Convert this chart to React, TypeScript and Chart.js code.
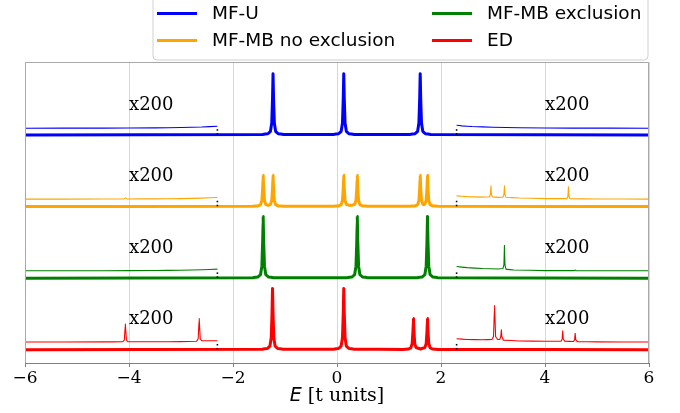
import React, { useEffect, useRef } from "react";
import { Chart, registerables } from "chart.js";

Chart.register(...registerables);

type Pt = [number, number];

const SERIES_NAMES = ["MF-U", "MF-MB no exclusion", "MF-MB exclusion", "ED"];
const COLORS = ["#0000ff", "#ffa500", "#008000", "#ff0000"];
const X_TICKS = [-6, -4, -2, 0, 2, 4, 6];
const TICK_LABELS = ["\u22126", "\u22124", "\u22122", "0", "2", "4", "6"];
const ZOOM_LABEL = "x200";
const CUT_X = [-2.3, 2.3];

// Main spectra (thick lines), intensity vs E
const MFU_MAIN: Pt[] = [
  [-6, 0], [-1.43, 0.008], [-1.33, 0.02], [-1.28, 0.06], [-1.255, 0.2], [-1.24, 0.6], [-1.23, 1.02], [-1.22, 0.6], [-1.205, 0.2], [-1.18, 0.06], [-1.13, 0.02], [-1.03, 0.008],
  [-0.07, 0.008], [0.03, 0.02], [0.08, 0.06], [0.105, 0.2], [0.12, 0.6], [0.13, 1.02], [0.14, 0.6], [0.155, 0.2], [0.18, 0.06], [0.23, 0.02], [0.33, 0.008],
  [1.4, 0.008], [1.5, 0.02], [1.55, 0.06], [1.575, 0.2], [1.59, 0.6], [1.6, 1.02], [1.61, 0.6], [1.625, 0.2], [1.65, 0.06], [1.7, 0.02], [1.8, 0.008], [6, 0],
];
const MFMB_NOEX_MAIN: Pt[] = [
  [-6, 0], [-1.62, 0.004], [-1.52, 0.01], [-1.47, 0.03], [-1.445, 0.1], [-1.43, 0.3], [-1.42, 0.52], [-1.41, 0.3], [-1.395, 0.1], [-1.37, 0.035],
  [-1.325, 0.018], [-1.28, 0.035], [-1.255, 0.1], [-1.24, 0.3], [-1.23, 0.52], [-1.22, 0.3], [-1.205, 0.1], [-1.18, 0.03], [-1.13, 0.01], [-1.03, 0.004],
  [-0.07, 0.004], [0.03, 0.01], [0.08, 0.03], [0.105, 0.1], [0.12, 0.3], [0.13, 0.52], [0.14, 0.3], [0.155, 0.1], [0.18, 0.035],
  [0.26, 0.016], [0.34, 0.035], [0.365, 0.1], [0.38, 0.3], [0.39, 0.52], [0.4, 0.3], [0.415, 0.1], [0.44, 0.03], [0.49, 0.01], [0.59, 0.004],
  [1.4, 0.004], [1.5, 0.01], [1.55, 0.03], [1.575, 0.1], [1.59, 0.3], [1.6, 0.52], [1.61, 0.3], [1.625, 0.1], [1.65, 0.04],
  [1.67, 0.031], [1.69, 0.04], [1.715, 0.1], [1.73, 0.3], [1.74, 0.52], [1.75, 0.3], [1.765, 0.1], [1.79, 0.03], [1.84, 0.01], [1.94, 0.004], [6, 0],
];
const MFMB_EX_MAIN: Pt[] = [
  [-6, 0], [-1.62, 0.008], [-1.52, 0.02], [-1.47, 0.06], [-1.445, 0.2], [-1.43, 0.6], [-1.42, 1.03], [-1.41, 0.6], [-1.395, 0.2], [-1.37, 0.06], [-1.32, 0.02], [-1.22, 0.008],
  [0.19, 0.008], [0.29, 0.02], [0.34, 0.06], [0.365, 0.2], [0.38, 0.6], [0.39, 1.03], [0.4, 0.6], [0.415, 0.2], [0.44, 0.06], [0.49, 0.02], [0.59, 0.008],
  [1.54, 0.008], [1.64, 0.02], [1.69, 0.06], [1.715, 0.2], [1.73, 0.6], [1.74, 1.03], [1.75, 0.6], [1.765, 0.2], [1.79, 0.06], [1.84, 0.02], [1.94, 0.008], [6, 0],
];
const ED_MAIN: Pt[] = [
  [-6, 0], [-1.44, 0.008], [-1.34, 0.02], [-1.29, 0.06], [-1.265, 0.2], [-1.25, 0.6], [-1.24, 1.02], [-1.23, 0.6], [-1.215, 0.2], [-1.19, 0.06], [-1.14, 0.02], [-1.04, 0.008],
  [-0.07, 0.008], [0.03, 0.02], [0.08, 0.06], [0.105, 0.2], [0.12, 0.6], [0.13, 1.02], [0.14, 0.6], [0.155, 0.2], [0.18, 0.06], [0.23, 0.02], [0.33, 0.008],
  [1.27, 0.004], [1.37, 0.01], [1.42, 0.03], [1.445, 0.1], [1.46, 0.3], [1.47, 0.52], [1.48, 0.3], [1.495, 0.1], [1.52, 0.035],
  [1.605, 0.012], [1.69, 0.035], [1.715, 0.1], [1.73, 0.3], [1.74, 0.52], [1.75, 0.3], [1.765, 0.1], [1.79, 0.03], [1.84, 0.01], [1.94, 0.004], [6, 0],
];

// x200 magnified tails (thin lines), left and right of the cuts
const MFU_LEFT: Pt[] = [[-6, -0.008], [-4.5, -0.006], [-3.5, -0.002], [-3, 0.003], [-2.6, 0.012], [-2.3, 0.025]];
const MFU_RIGHT: Pt[] = [[2.3, 0.042], [2.4, 0.032], [2.6, 0.02], [3, 0.008], [3.5, 0], [4.5, -0.006], [6, -0.008]];
const MFMB_NOEX_LEFT: Pt[] = [
  [-6, 0.003], [-4.5, 0.004], [-4.1, 0.006], [-4.07, 0.025], [-4.04, 0.006], [-3.5, 0.008], [-3, 0.012], [-2.6, 0.02], [-2.3, 0.03],
];
const MFMB_NOEX_RIGHT: Pt[] = [
  [2.3, 0.058], [2.5, 0.045], [2.8, 0.037], [2.93, 0.04], [2.95, 0.08], [2.96, 0.225], [2.97, 0.08], [2.99, 0.04],
  [3.1, 0.032], [3.19, 0.035], [3.21, 0.08], [3.22, 0.225], [3.23, 0.08], [3.25, 0.033], [3.5, 0.022], [4, 0.012],
  [4.42, 0.012], [4.44, 0.05], [4.45, 0.21], [4.46, 0.05], [4.48, 0.01], [5, 0.006], [6, 0.003],
];
const MFMB_EX_LEFT: Pt[] = [[-6, 0.002], [-4.5, 0.003], [-3.5, 0.007], [-3, 0.012], [-2.6, 0.02], [-2.3, 0.03]];
const MFMB_EX_RIGHT: Pt[] = [
  [2.3, 0.073], [2.5, 0.055], [2.8, 0.04], [3.1, 0.032], [3.19, 0.04], [3.21, 0.1], [3.22, 0.423], [3.23, 0.1],
  [3.25, 0.03], [3.4, 0.015], [4, 0.006], [4.56, 0.005], [4.58, 0.015], [4.6, 0.005], [6, 0.002],
];
const ED_LEFT: Pt[] = [
  [-6, 0.008], [-4.5, 0.01], [-4.12, 0.012], [-4.09, 0.04], [-4.07, 0.308], [-4.05, 0.04], [-4.02, 0.012],
  [-3.5, 0.012], [-3, 0.015], [-2.7, 0.02], [-2.67, 0.06], [-2.65, 0.4], [-2.63, 0.06], [-2.6, 0.03], [-2.45, 0.028], [-2.3, 0.03],
];
const ED_RIGHT: Pt[] = [
  [2.3, 0.063], [2.5, 0.05], [2.8, 0.045], [2.98, 0.05], [3.01, 0.1], [3.03, 0.618], [3.05, 0.1], [3.09, 0.05],
  [3.13, 0.05], [3.15, 0.1], [3.16, 0.213], [3.17, 0.1], [3.2, 0.04], [3.5, 0.025], [4, 0.02], [4.31, 0.02],
  [4.33, 0.06], [4.34, 0.197], [4.35, 0.06], [4.38, 0.02], [4.55, 0.017], [4.57, 0.05], [4.58, 0.158], [4.59, 0.05],
  [4.62, 0.015], [5, 0.01], [6, 0.008],
];

const MAIN = [MFU_MAIN, MFMB_NOEX_MAIN, MFMB_EX_MAIN, ED_MAIN];
const LEFT = [MFU_LEFT, MFMB_NOEX_LEFT, MFMB_EX_LEFT, ED_LEFT];
const RIGHT = [MFU_RIGHT, MFMB_NOEX_RIGHT, MFMB_EX_RIGHT, ED_RIGHT];

// layout constants
const PANEL_OFFSET = [3.583, 2.389, 1.194, 0];
const THIN_OFFSET = 0.12;
const Y_MIN = -0.222;
const Y_MAX = 4.8;

const toXY = (pts: Pt[], dy: number) => pts.map(([x, y]) => ({ x, y: y + dy }));

export default function App() {
  const ref = useRef<HTMLCanvasElement | null>(null);

  useEffect(() => {
    const canvas = ref.current!;
    const datasets: any[] = [];

    // cut markers (":")
    const dots: { x: number; y: number }[] = [];
    PANEL_OFFSET.forEach((off) => {
      CUT_X.forEach((cx) => {
        dots.push({ x: cx, y: off + 0.017 });
        dots.push({ x: cx, y: off + 0.083 });
      });
    });
    datasets.push({
      label: "cuts",
      data: dots,
      showLine: false,
      pointRadius: 1.1,
      pointStyle: "rect",
      pointBackgroundColor: "#000",
      pointBorderColor: "#000",
      pointBorderWidth: 0,
      order: 0,
    });

    // tiny tension avoids Chart.js's pixel-column "fast path" which notches steep peaks
    const TENSION = 0.0001;

    SERIES_NAMES.forEach((name, i) => {
      datasets.push({
        label: name,
        data: toXY(MAIN[i], PANEL_OFFSET[i]),
        borderColor: COLORS[i],
        borderWidth: 3,
        pointRadius: 0,
        tension: TENSION,
        borderJoinStyle: "round",
        borderCapStyle: "round",
        order: 1 + i,
      });
      datasets.push({
        label: name + " x200 left",
        data: toXY(LEFT[i], PANEL_OFFSET[i] + THIN_OFFSET),
        borderColor: COLORS[i],
        borderWidth: 1.1,
        pointRadius: 0,
        tension: TENSION,
        order: 10 + i,
      });
      datasets.push({
        label: name + " x200 right",
        data: toXY(RIGHT[i], PANEL_OFFSET[i] + THIN_OFFSET),
        borderColor: COLORS[i],
        borderWidth: 1.1,
        pointRadius: 0,
        tension: TENSION,
        order: 10 + i,
      });
    });

    const decor = {
      id: "decor",
      afterDatasetsDraw(chart: any) {
        const { ctx, chartArea, scales } = chart;
        const xs = scales.x;
        const ys = scales.y;
        ctx.save();
        // x200 labels
        ctx.fillStyle = "#000";
        ctx.font = "18px 'DejaVu Serif'";
        ctx.textAlign = "left";
        ctx.textBaseline = "middle";
        PANEL_OFFSET.forEach((off) => {
          const y = ys.getPixelForValue(off + 0.5);
          ctx.fillText(ZOOM_LABEL, xs.getPixelForValue(-4.0), y);
          ctx.fillText(ZOOM_LABEL, xs.getPixelForValue(4.0), y);
        });
        // frame (left, top, right)
        ctx.strokeStyle = "#a8a8a8";
        ctx.lineWidth = 1;
        ctx.beginPath();
        ctx.moveTo(chartArea.left + 0.5, chartArea.bottom);
        ctx.lineTo(chartArea.left + 0.5, chartArea.top + 0.5);
        ctx.lineTo(chartArea.right - 0.5, chartArea.top + 0.5);
        ctx.lineTo(chartArea.right - 0.5, chartArea.bottom);
        ctx.stroke();
        // x axis title
        const cx = (chartArea.left + chartArea.right) / 2;
        const ty = 396;
        ctx.font = "italic 19px 'DejaVu Sans'";
        const w1 = ctx.measureText("E").width;
        ctx.font = "19px 'DejaVu Serif'";
        const rest = " [t units]";
        const w2 = ctx.measureText(rest).width;
        const x0 = cx - (w1 + w2) / 2;
        ctx.textAlign = "left";
        ctx.font = "italic 19px 'DejaVu Sans'";
        ctx.fillText("E", x0, ty);
        ctx.font = "19px 'DejaVu Serif'";
        ctx.fillText(rest, x0 + w1, ty);
        ctx.restore();
      },
      afterDraw(chart: any) {
        const { ctx } = chart;
        ctx.save();
        // legend box
        const bx = 153, by = -4, bw = 495, bh = 64, r = 4;
        ctx.beginPath();
        ctx.moveTo(bx + r, by);
        ctx.lineTo(bx + bw - r, by);
        ctx.quadraticCurveTo(bx + bw, by, bx + bw, by + r);
        ctx.lineTo(bx + bw, by + bh - r);
        ctx.quadraticCurveTo(bx + bw, by + bh, bx + bw - r, by + bh);
        ctx.lineTo(bx + r, by + bh);
        ctx.quadraticCurveTo(bx, by + bh, bx, by + bh - r);
        ctx.lineTo(bx, by + r);
        ctx.quadraticCurveTo(bx, by, bx + r, by);
        ctx.closePath();
        ctx.fillStyle = "rgba(255,255,255,0.85)";
        ctx.fill();
        ctx.strokeStyle = "#d0d0d0";
        ctx.lineWidth = 1;
        ctx.stroke();
        const cols = [
          { lx: 157, tx: 212 },
          { lx: 432, tx: 487 },
        ];
        const rows = [13.5, 40.5];
        ctx.font = "18.5px 'DejaVu Sans'";
        ctx.textAlign = "left";
        ctx.textBaseline = "middle";
        SERIES_NAMES.forEach((name, k) => {
          const c = cols[Math.floor(k / 2)];
          const y = rows[k % 2];
          ctx.strokeStyle = COLORS[k];
          ctx.lineWidth = 3;
          ctx.beginPath();
          ctx.moveTo(c.lx, y);
          ctx.lineTo(c.lx + 40, y);
          ctx.stroke();
          ctx.fillStyle = "#000";
          ctx.fillText(name, c.tx, y + 1);
        });
        ctx.restore();
      },
    };

    const chart = new Chart(canvas, {
      type: "line",
      data: { datasets },
      options: {
        animation: false,
        responsive: false,
        maintainAspectRatio: false,
        layout: { padding: { left: 25, right: 31, top: 62, bottom: 0 } },
        plugins: { legend: { display: false }, tooltip: { enabled: false } },
        scales: {
          x: {
            type: "linear",
            min: -6,
            max: 6,
            afterBuildTicks: (s: any) => {
              s.ticks = X_TICKS.map((v) => ({ value: v }));
            },
            afterFit: (s: any) => {
              s.height = 50;
            },
            grid: { color: "#d8d8d8", lineWidth: 1, drawTicks: true, tickLength: 4, tickColor: "#808080" },
            border: { display: true, color: "#808080", width: 1 },
            ticks: {
              padding: 1,
              color: "#000",
              font: { family: "'DejaVu Serif'", size: 17 },
              maxRotation: 0,
              callback: (v: any) => {
                const i = X_TICKS.indexOf(Number(v));
                return i >= 0 ? TICK_LABELS[i] : "";
              },
            },
            title: { display: false },
          },
          y: {
            type: "linear",
            display: false,
            min: Y_MIN,
            max: Y_MAX,
          },
        },
      },
      plugins: [decor],
    });
    return () => chart.destroy();
  }, []);

  return (
    <div style={{ position: "fixed", left: 0, top: 0, width: 680, height: 413, background: "#fff" }}>
      <canvas ref={ref} width={680} height={413} style={{ display: "block", width: 680, height: 413 }} />
    </div>
  );
}
